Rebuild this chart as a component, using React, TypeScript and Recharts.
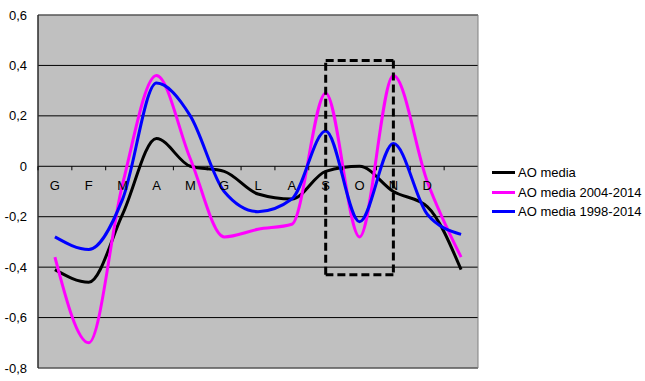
import React from 'react';
import {
  LineChart,
  Line,
  XAxis,
  YAxis,
  CartesianGrid,
  ReferenceArea,
  ReferenceLine,
} from 'recharts';

// month initials (Italian), last slot has no label
const months = ['G', 'F', 'M', 'A', 'M', 'G', 'L', 'A', 'S', 'O', 'N', 'D', ''];

const aoMedia = [-0.41, -0.46, -0.19, 0.11, 0.0, -0.02, -0.11, -0.13, -0.02, 0.0, -0.1, -0.16, -0.41];
const ao2004 = [-0.36, -0.7, -0.07, 0.36, 0.03, -0.28, -0.25, -0.23, 0.29, -0.28, 0.36, -0.06, -0.36];
const ao1998 = [-0.28, -0.33, -0.13, 0.33, 0.2, -0.1, -0.18, -0.13, 0.14, -0.22, 0.09, -0.19, -0.27];

const yTicks = [-0.8, -0.6, -0.4, -0.2, 0, 0.2, 0.4, 0.6];

// dashed box around the autumn months
const boxFrom = 'S';
const boxTo = 'N';
const boxTop = 0.42;
const boxBottom = -0.43;

const series = [
  { key: 'media', name: 'AO media', color: '#000000', values: aoMedia },
  { key: 'y2004', name: 'AO media 2004-2014', color: '#FF00FF', values: ao2004 },
  { key: 'y1998', name: 'AO media 1998-2014', color: '#0000FF', values: ao1998 },
];

const data = months.map((m, i) => {
  const row: Record<string, number | string> = { slot: i, month: m };
  series.forEach((s) => {
    row[s.key] = s.values[i];
  });
  return row;
});

const W = 645;
const H = 381;
const TOP = 15;
const LEFT = 38;
const RIGHT = 478;
const BOTTOM = 368;
const PLOT_W = RIGHT - LEFT;
const PLOT_H = BOTTOM - TOP;
const Y_MIN = yTicks[0];
const Y_MAX = yTicks[yTicks.length - 1];
const Y0 = TOP + (PLOT_H * Y_MAX) / (Y_MAX - Y_MIN);
const BAND = PLOT_W / months.length;

const FONT = 'Arial, "Liberation Sans", sans-serif';

const fmtY = (v: number) => (Math.abs(v) < 1e-9 ? '0' : v.toFixed(1).replace('.', ','));

// labels and tick marks sit on the zero line, tick marks between categories
function MonthTick(props: any) {
  const { x, payload } = props;
  const label = months[Number(payload.value)];
  return (
    <g>
      <line x1={x - BAND / 2} x2={x - BAND / 2} y1={Y0} y2={Y0 + 4} stroke="#000" />
      <text x={x} y={Y0 + 24} textAnchor="middle" fontSize={13} fontFamily={FONT} fill="#000">
        {label}
      </text>
    </g>
  );
}

export default function App() {
  const xa = months.indexOf(boxFrom);
  const xb = months.indexOf(boxTo);
  const boxSides = [
    [{ x: xa, y: boxTop }, { x: xb, y: boxTop }],
    [{ x: xb, y: boxTop }, { x: xb, y: boxBottom }],
    [{ x: xb, y: boxBottom }, { x: xa, y: boxBottom }],
    [{ x: xa, y: boxBottom }, { x: xa, y: boxTop }],
  ];

  return (
    <div style={{ position: 'absolute', left: 0, top: 0, width: W, height: H, background: '#fff' }}>
      <LineChart
        width={W}
        height={H}
        data={data}
        margin={{ top: TOP, right: W - RIGHT, bottom: 0, left: 0 }}
      >
        <CartesianGrid horizontal vertical={false} stroke="#000" fill="#C0C0C0" fillOpacity={1} />
        <XAxis
          dataKey="slot"
          type="category"
          scale="band"
          height={H - BOTTOM}
          axisLine={false}
          tickLine={false}
          interval={0}
          tick={(p: any) => <MonthTick {...p} />}
        />
        <YAxis
          type="number"
          domain={[Y_MIN, Y_MAX]}
          ticks={yTicks}
          width={LEFT}
          tickLine={false}
          tickSize={6}
          tickMargin={5}
          axisLine={{ stroke: '#000' }}
          tick={{ fill: '#000', fontSize: 13, fontFamily: FONT }}
          tickFormatter={fmtY}
          allowDataOverflow
        />
        <ReferenceArea y1={Y_MIN} y2={Y_MAX} fill="none" stroke="#808080" strokeWidth={1} />
        {series.map((s) => (
          <Line
            key={s.key}
            dataKey={s.key}
            name={s.name}
            type="monotone"
            stroke={s.color}
            strokeWidth={3}
            dot={false}
            activeDot={false}
            isAnimationActive={false}
          />
        ))}
        {boxSides.map((seg, i) => (
          <ReferenceLine
            key={i}
            segment={seg}
            stroke="#000"
            strokeWidth={3}
            strokeDasharray="8 4"
          />
        ))}
      </LineChart>
      <div style={{ position: 'absolute', left: 492, top: 163, fontFamily: FONT, fontSize: 13, color: '#000' }}>
        {series.map((s) => (
          <div key={s.key} style={{ display: 'flex', alignItems: 'center', height: 19.5, whiteSpace: 'nowrap' }}>
            <span style={{ display: 'inline-block', width: 23, height: 3, background: s.color, marginRight: 3 }} />
            <span>{s.name}</span>
          </div>
        ))}
      </div>
    </div>
  );
}
